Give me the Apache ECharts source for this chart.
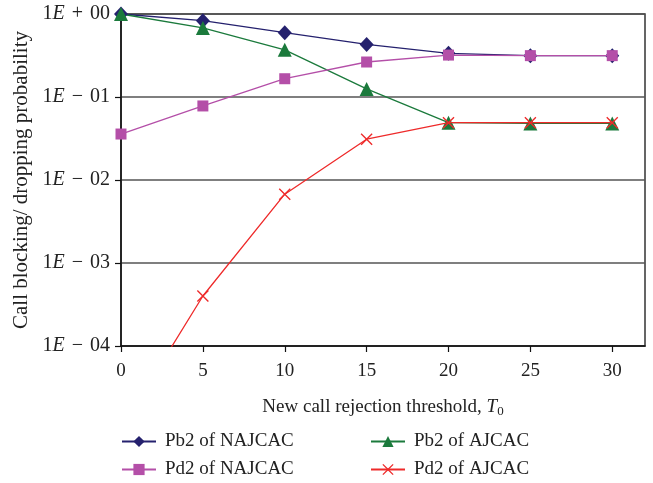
<!DOCTYPE html>
<html>
<head>
<meta charset="utf-8">
<script src="https://cdn.jsdelivr.net/npm/echarts@6/dist/echarts.min.js"></script>
<style>
  html, body { margin: 0; padding: 0; background: #fff; }
  #chart { width: 653px; height: 483px; }
</style>
</head>
<body>
<div id="chart"></div>
<script>
// 数据
var thresholds = [0, 5, 10, 15, 20, 25, 30];
var xTickLabels = [0, 5, 10, 15, 20, 25, 30];
var pb2Najcac = [1.0, 0.83, 0.595, 0.43, 0.336, 0.315, 0.315];
var pd2Najcac = [0.0358, 0.078, 0.166, 0.264, 0.32, 0.315, 0.315];
var pb2Ajcac = [1.0, 0.68, 0.37, 0.125, 0.049, 0.048, 0.048];
var pd2Ajcac = [0.00001, 0.0004, 0.00675, 0.031, 0.049, 0.049, 0.049];
var seriesNames = ['Pb2 of NAJCAC', 'Pd2 of NAJCAC', 'Pb2 of AJCAC', 'Pd2 of AJCAC'];

var FONT = '"Liberation Serif", "DejaVu Serif", serif';
var crossPath = 'path://M0,0.8L0.8,0L5,4.2L9.2,0L10,0.8L5.8,5L10,9.2L9.2,10L5,5.8L0.8,10L0,9.2L4.2,5Z';

function pairs(vals) {
    return thresholds.map(function(t, i) { return [t, vals[i]]; });
}

function pad2(n) {
    return n < 10 ? '0' + n : '' + n;
}

var dom = document.getElementById('chart');
var myChart = echarts.init(dom);

function legendAt(name, left, top) {
    return {
        data: [name],
        left: left,
        top: top,
        padding: 0,
        itemWidth: 34,
        itemHeight: 14,
        itemGap: 0,
        textStyle: { fontFamily: FONT, fontSize: 19, color: '#222', padding: [0, 0, 0, 4] }
    };
}

var option = {
    animation: false,
    backgroundColor: '#fff',
    grid: {
        left: 121,
        right: 8,
        top: 14,
        bottom: 137,
        show: true,
        borderColor: '#333',
        borderWidth: 1.5
    },
    legend: [
        legendAt(seriesNames[0], 121, 432),
        legendAt(seriesNames[2], 370, 432),
        legendAt(seriesNames[1], 121, 460),
        legendAt(seriesNames[3], 370, 460)
    ],
    xAxis: {
        type: 'value',
        min: 0,
        max: 32,
        interval: 5,
        name: 'New call rejection threshold, {i|T}{s|0}',
        nameLocation: 'middle',
        nameGap: 50,
        nameTextStyle: {
            fontFamily: FONT,
            fontSize: 19,
            color: '#222',
            rich: {
                i: { fontFamily: FONT, fontSize: 19, fontStyle: 'italic', color: '#222' },
                s: { fontFamily: FONT, fontSize: 13, color: '#222', padding: [9, 0, 0, 0] }
            }
        },
        axisLine: { lineStyle: { color: '#111', width: 1.5 } },
        axisTick: { customValues: xTickLabels, length: 6, lineStyle: { color: '#111', width: 1.2 } },
        axisLabel: {
            customValues: xTickLabels,
            fontFamily: FONT,
            fontSize: 19,
            color: '#222',
            margin: 16
        },
        splitLine: { show: false }
    },
    yAxis: {
        type: 'log',
        logBase: 10,
        min: 0.0001,
        max: 1,
        name: 'Call blocking/ dropping probability',
        nameLocation: 'middle',
        nameGap: 86,
        nameTextStyle: { fontFamily: FONT, fontSize: 21, color: '#222' },
        axisLine: { lineStyle: { color: '#111', width: 1.5 } },
        axisTick: { length: 6, lineStyle: { color: '#111', width: 1.2 } },
        axisLabel: {
            fontFamily: FONT,
            fontSize: 20,
            color: '#222',
            margin: 11,
            formatter: function(v) {
                var e = Math.round(Math.log(v) / Math.LN10);
                return '1{i|E}{o|' + (e < 0 ? '\u2212' : '+') + '}' + pad2(Math.abs(e));
            },
            rich: {
                i: { fontFamily: FONT, fontSize: 20, fontStyle: 'italic', color: '#222' },
                o: { fontFamily: FONT, fontSize: 20, color: '#222', padding: [0, 7, 0, 7] }
            }
        },
        splitLine: { show: true, lineStyle: { color: '#555', width: 1.5 } }
    },
    series: [{
        name: seriesNames[0],
        type: 'line',
        data: pairs(pb2Najcac),
        symbol: 'diamond',
        symbolSize: [14, 15],
        z: 3,
        lineStyle: { color: '#25216e', width: 1.3 },
        itemStyle: { color: '#25216e' }
    }, {
        name: seriesNames[1],
        type: 'line',
        data: pairs(pd2Najcac),
        symbol: 'rect',
        symbolSize: 11,
        z: 4,
        lineStyle: { color: '#b44fa8', width: 1.3 },
        itemStyle: { color: '#b44fa8' }
    }, {
        name: seriesNames[2],
        type: 'line',
        data: pairs(pb2Ajcac),
        symbol: 'triangle',
        symbolSize: 14,
        z: 3,
        lineStyle: { color: '#1b7a3c', width: 1.3 },
        itemStyle: { color: '#1b7a3c' }
    }, {
        name: seriesNames[3],
        type: 'line',
        data: pairs(pd2Ajcac),
        symbol: crossPath,
        symbolSize: 12,
        z: 4,
        lineStyle: { color: '#ee2a2a', width: 1.3 },
        itemStyle: { color: '#ee2a2a' }
    }]
};

if (option && typeof option === 'object') {
    myChart.setOption(option, true);
}

window.addEventListener('resize', function() {
    myChart.resize();
});
</script>
</body>
</html>
